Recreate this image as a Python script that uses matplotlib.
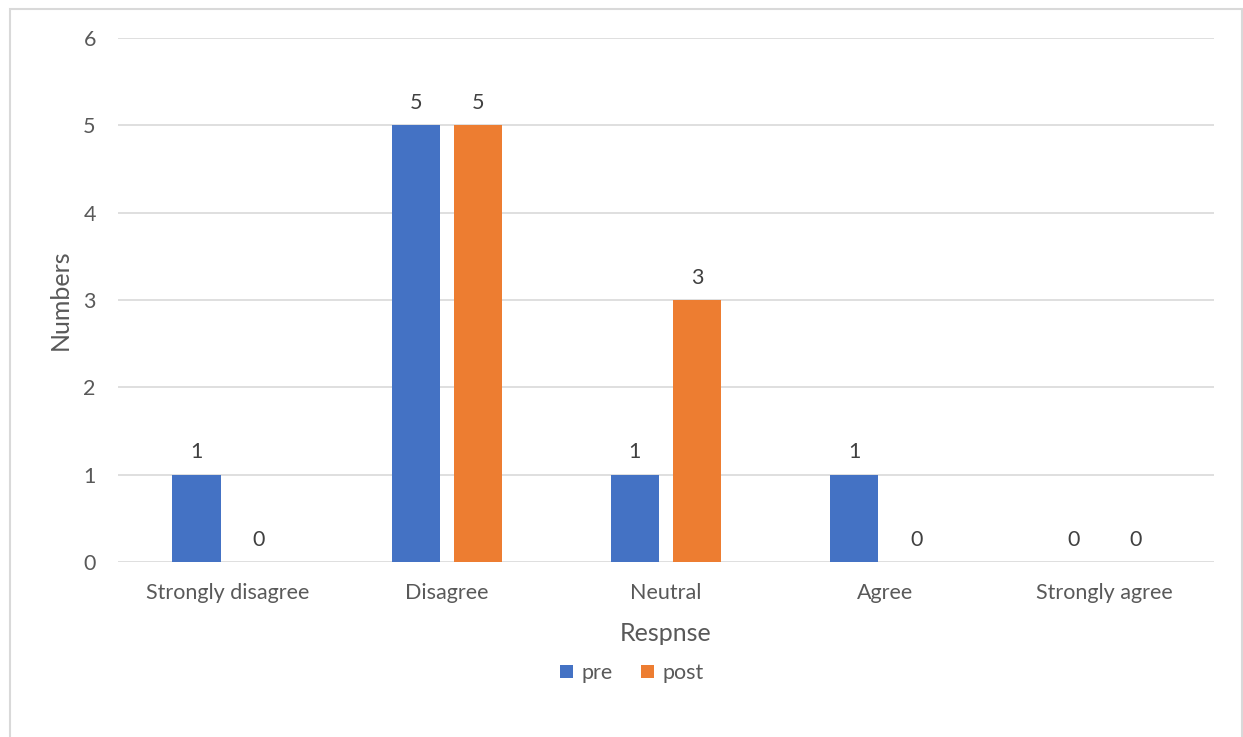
import numpy as np
import matplotlib.pyplot as plt
from matplotlib.patches import Rectangle

plt.rcParams['font.family'] = ['Lato', 'DejaVu Sans']

categories = ['Strongly disagree', 'Disagree', 'Neutral', 'Agree', 'Strongly agree']
pre = [1, 5, 1, 1, 0]
post = [0, 5, 3, 0, 0]

blue = '#4472C4'
orange = '#ED7D31'
grey_text = '#595959'
grid_col = '#D9D9D9'

fig = plt.figure(figsize=(12.43, 7.37), dpi=100)
ax = fig.add_axes([118 / 1243, 1 - 562 / 737, 1096 / 1243, 524 / 737])

x = np.arange(len(categories))
w = 0.22
off = 0.142
b1 = ax.bar(x - off, pre, w, color=blue, label='pre', zorder=3)
b2 = ax.bar(x + off, post, w, color=orange, label='post', zorder=3)

for bars, vals in [(b1, pre), (b2, post)]:
    for r, v in zip(bars, vals):
        ax.text(r.get_x() + r.get_width() / 2, v + 0.14, str(v),
                ha='center', va='bottom', fontsize=15.5, color='#404040')

ax.set_xlim(-0.5, len(categories) - 0.5)
ax.set_ylim(0, 6)
ax.set_yticks(range(7))
ax.set_xticks(x)
ax.set_xticklabels(categories)
ax.tick_params(length=0, labelsize=15.5, labelcolor=grey_text)
ax.tick_params(axis='y', pad=16)
ax.tick_params(axis='x', pad=15)
ax.grid(axis='y', color=grid_col, linewidth=1.2, zorder=0)
for s in ax.spines.values():
    s.set_visible(False)

ax.set_xlabel('Respnse', fontsize=18, color=grey_text, labelpad=14)
ax.set_ylabel('Numbers', fontsize=18, color=grey_text, labelpad=8)

fig.legend(handles=[b1, b2], loc='center', bbox_to_anchor=(632 / 1243, 1 - 673 / 737),
           ncol=2, frameon=False, fontsize=15.5, labelcolor=grey_text,
           handlelength=0.6, handleheight=0.6, handletextpad=0.4, columnspacing=1.3)

# outer chart frame
fig.patches.append(Rectangle((9.5 / 1243, -0.1), (1241.5 - 9.5) / 1243, 1.1 - 8.5 / 737,
                             transform=fig.transFigure, fill=False,
                             edgecolor='#D9D9D9', linewidth=1.5, clip_on=False))

fig.savefig('out.png', dpi=100, facecolor='white')
